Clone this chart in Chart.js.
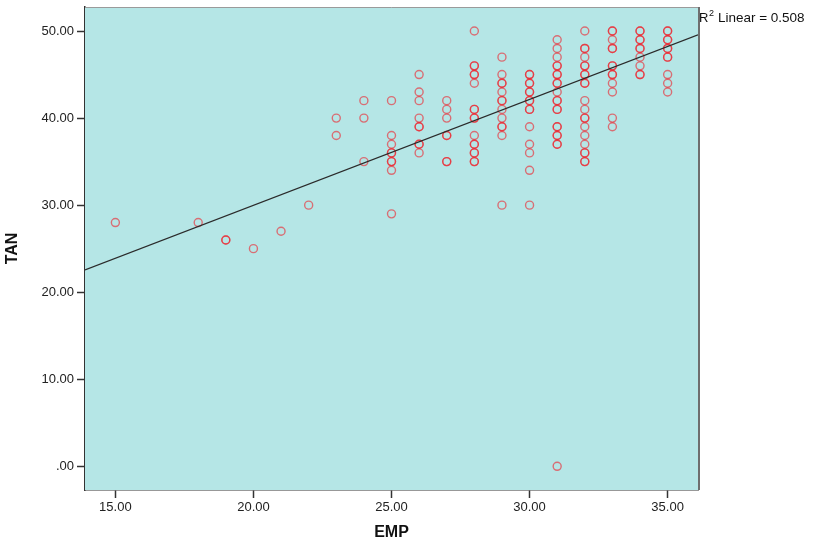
<!DOCTYPE html>
<html>
<head>
<meta charset="utf-8">
<script src="https://cdn.jsdelivr.net/npm/chart.js@4"></script>
<style>
html,body{margin:0;padding:0;background:#fff;}
#wrap{width:816px;height:543px;position:relative;}
</style>
</head>
<body>
<div id="wrap"><canvas id="c" width="816" height="543"></canvas></div>
<script>
// ---- data ----
const empValues = [
  15, 18, 19,19, 20, 21, 22,
  23,23,
  24,24,24,
  25,25,25,25,25,25,25,25,25,
  26,26,26,26,26,26,26,26,26,
  27,27,27,27,27,27,27,
  28,28,28,28,28,28,28,28,28,28,28,28,28,28,28,28,28,
  29,29,29,29,29,29,29,29,29,29,29,29,29,
  30,30,30,30,30,30,30,30,30,30,30,30,30,30,30,
  31,31,31,31,31,31,31,31,31,31,31,31,31,31,31,31,31,31,31,31,31,
  32,32,32,32,32,32,32,32,32,32,32,32,32,32,32,32,32,32,32,32,32,
  33,33,33,33,33,33,33,33,33,33,33,33,33,
  34,34,34,34,34,34,34,34,34,34,
  35,35,35,35,35,35,35,35,35,35,35
];
const tanValues = [
  28, 28, 26,26, 25, 27, 30,
  40,38,
  42,40,35,
  42,38,37,36,36,35,35,34,29,
  45,43,42,40,39,39,37,37,36,
  42,41,40,38,38,35,35,
  50,46,46,45,45,44,41,41,40,40,38,37,37,36,36,35,35,
  47,45,44,44,43,42,42,41,40,39,39,38,30,
  45,45,44,44,43,43,42,42,41,41,39,37,36,34,30,
  49,48,47,46,46,45,45,44,44,43,42,42,41,41,39,39,38,38,37,37,0,
  50,48,48,47,46,46,45,45,44,44,42,41,40,40,39,38,37,36,36,35,35,
  50,50,49,48,48,46,46,45,45,44,43,40,39,
  50,50,49,49,48,48,47,46,45,45,
  50,50,49,49,48,48,47,47,45,44,43
];
const fitLineX = [13.9, 36.1];
const fitLineY = [22.56, 49.57];
const xTicks = [15, 20, 25, 30, 35];
const xTickLabels = ['15.00', '20.00', '25.00', '30.00', '35.00'];
const yTicks = [0, 10, 20, 30, 40, 50];
const yTickLabels = ['.00', '10.00', '20.00', '30.00', '40.00', '50.00'];
const xTitle = 'EMP';
const yTitle = 'TAN';
const r2Text = 'Linear = 0.508';

const scatterPts = empValues.map((x, i) => ({x: x, y: tanValues[i]}));
const linePts = fitLineX.map((x, i) => ({x: x, y: fitLineY[i]}));

const bgPlugin = {
  id: 'bg',
  beforeDatasetsDraw(chart) {
    const {ctx, chartArea: a} = chart;
    ctx.save();
    ctx.fillStyle = '#B5E6E6';
    ctx.fillRect(a.left, a.top, a.right - a.left, a.bottom - a.top);
    ctx.restore();
  },
  afterDraw(chart) {
    const {ctx, chartArea: a} = chart;
    ctx.save();
    ctx.strokeStyle = '#9a9a9a';
    ctx.lineWidth = 1;
    ctx.beginPath();
    ctx.moveTo(a.left, a.top + 0.5);
    ctx.lineTo(a.right, a.top + 0.5);
    ctx.stroke();
    ctx.strokeStyle = '#6e6e6e';
    ctx.lineWidth = 2;
    ctx.beginPath();
    ctx.moveTo(a.right + 1, a.top);
    ctx.lineTo(a.right + 1, a.bottom);
    ctx.stroke();
    // R² label
    ctx.fillStyle = '#111';
    ctx.textBaseline = 'alphabetic';
    ctx.textAlign = 'left';
    ctx.font = '13px "Liberation Sans", Arial, sans-serif';
    const x0 = a.right + 1;
    const yb = 22;
    ctx.fillText('R', x0, yb);
    const wR = ctx.measureText('R').width;
    ctx.font = '9px "Liberation Sans", Arial, sans-serif';
    ctx.fillText('2', x0 + wR + 0.5, yb - 6);
    const w2 = ctx.measureText('2').width;
    ctx.font = '13.5px "Liberation Sans", Arial, sans-serif';
    ctx.fillText(r2Text, x0 + wR + w2 + 4.5, yb);
    ctx.restore();
  }
};

new Chart(document.getElementById('c'), {
  type: 'scatter',
  data: {
    datasets: [
      {
        type: 'line',
        data: linePts,
        borderColor: '#2b2b2b',
        borderWidth: 1.2,
        pointRadius: 0,
        fill: false,
        tension: 0,
        order: 0
      },
      {
        type: 'scatter',
        data: scatterPts,
        pointStyle: 'circle',
        pointRadius: 4,
        pointBorderWidth: 1.4,
        pointBackgroundColor: 'rgba(0,0,0,0)',
        pointBorderColor: 'rgba(240,30,40,0.6)',
        order: 1
      }
    ]
  },
  options: {
    responsive: false,
    animation: false,
    events: [],
    layout: {padding: {top: 7, right: 118, left: 0, bottom: 0}},
    plugins: {legend: {display: false}, tooltip: {enabled: false}},
    scales: {
      x: {
        type: 'linear',
        min: 13.9,
        max: 36.1,
        afterBuildTicks(s) { s.ticks = xTicks.map(v => ({value: v})); },
        afterFit(s) { s.height = 53; s.paddingLeft = 0; s.paddingRight = 0; },
        ticks: {
          callback: (v) => xTickLabels[xTicks.indexOf(v)],
          font: {family: '"Liberation Sans", Arial, sans-serif', size: 13},
          color: '#222',
          padding: 2,
          maxRotation: 0,
          autoSkip: false
        },
        grid: {drawOnChartArea: false, drawTicks: true, tickLength: 8, color: '#333', tickWidth: 1.5},
        border: {display: true, color: '#333', width: 1.5},
        title: {
          display: true,
          text: xTitle,
          font: {family: '"Liberation Sans", Arial, sans-serif', size: 16, weight: 'bold'},
          color: '#111',
          padding: {top: 0, bottom: 1}
        }
      },
      y: {
        type: 'linear',
        min: -2.72,
        max: 52.76,
        afterBuildTicks(s) { s.ticks = yTicks.map(v => ({value: v})); },
        afterFit(s) { s.width = 85; s.paddingTop = 0; s.paddingBottom = 0; },
        ticks: {
          callback: (v) => yTickLabels[yTicks.indexOf(v)],
          font: {family: '"Liberation Sans", Arial, sans-serif', size: 13},
          color: '#222',
          padding: 3,
          autoSkip: false
        },
        grid: {drawOnChartArea: false, drawTicks: true, tickLength: 8, color: '#333', tickWidth: 1.5},
        border: {display: true, color: '#333', width: 1.5},
        title: {
          display: true,
          text: yTitle,
          font: {family: '"Liberation Sans", Arial, sans-serif', size: 16, weight: 'bold'},
          color: '#111',
          padding: {top: 3, bottom: 0}
        }
      }
    }
  },
  plugins: [bgPlugin]
});
</script>
</body>
</html>
